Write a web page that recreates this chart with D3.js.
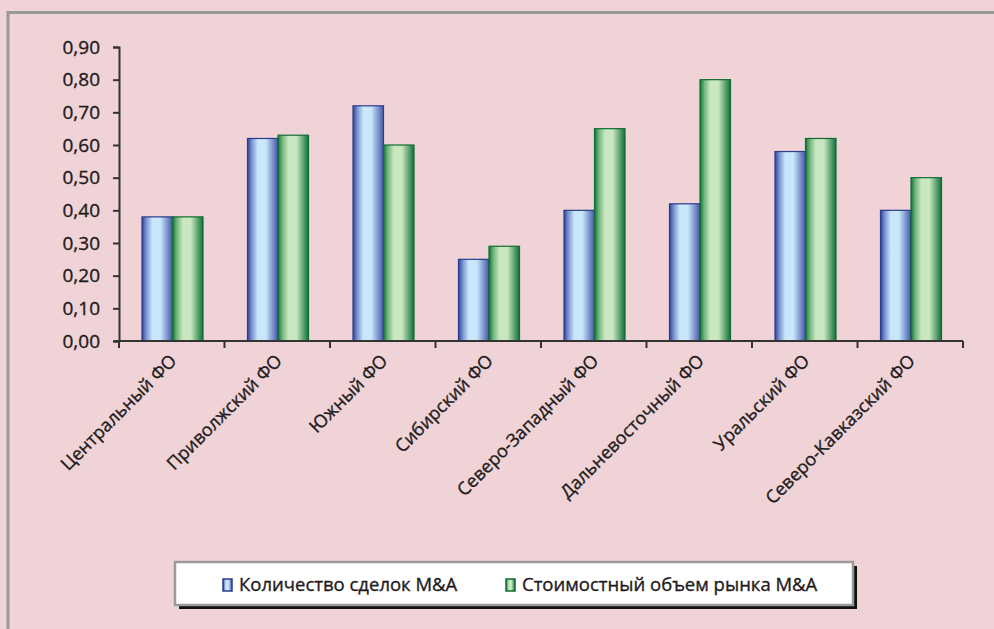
<!DOCTYPE html>
<html>
<head>
<meta charset="utf-8">
<script src="https://cdn.jsdelivr.net/npm/d3@7"></script>
<style>
    body { margin: 0; background: #efd3d6; }
    svg { display: block; }
    text { font-family: "Open Sans", sans-serif; fill: #1f1b1c; stroke: #1f1b1c; stroke-width: 0.35px; }
</style>
</head>
<body>
<svg width="994" height="629"></svg>
<script>
// Data
const districts = ["Центральный ФО", "Приволжский ФО", "Южный ФО", "Сибирский ФО",
    "Северо-Западный ФО", "Дальневосточный ФО", "Уральский ФО", "Северо-Кавказский ФО"];
const series = ["Количество сделок M&A", "Стоимостный объем рынка M&A"];
const deals = [0.38, 0.62, 0.72, 0.25, 0.40, 0.42, 0.58, 0.40];
const volume = [0.38, 0.63, 0.60, 0.29, 0.65, 0.80, 0.62, 0.50];
const yTicks = [0, 0.1, 0.2, 0.3, 0.4, 0.5, 0.6, 0.7, 0.8, 0.9];

const svg = d3.select("svg");

// Gradients for the cylinder-ish bars
const defs = svg.append("defs");
const grad = (id, dark, mid, light, edge) => {
    const g = defs.append("linearGradient").attr("id", id)
        .attr("x1", "0%").attr("x2", "100%").attr("y1", "0%").attr("y2", "0%");
    g.append("stop").attr("offset", "0%").attr("stop-color", dark);
    g.append("stop").attr("offset", "14%").attr("stop-color", mid);
    g.append("stop").attr("offset", "34%").attr("stop-color", light);
    g.append("stop").attr("offset", "60%").attr("stop-color", light);
    g.append("stop").attr("offset", "100%").attr("stop-color", edge);
};
grad("gBlue", "#2f4497", "#7d92d0", "#c8e7fb", "#4656a8");
grad("gGreen", "#12733a", "#6fb57a", "#c9e7c0", "#10703a");
const colors = [
    { fill: "url(#gBlue)", stroke: "#2b3c8c" },
    { fill: "url(#gGreen)", stroke: "#0f6c32" }
];

// Outer frame (open on the right and bottom)
svg.append("rect")
    .attr("x", 8).attr("y", 12.5)
    .attr("width", 1100).attr("height", 700)
    .attr("fill", "none")
    .attr("stroke", "#999")
    .attr("stroke-width", 3);

// Scales
const x0 = d3.scaleBand().domain(districts).range([119, 963]).padding(0);
const x1 = d3.scaleBand().domain(series).range([23, 84]);
const y = d3.scaleLinear().domain([0, 0.9]).range([341, 47]);

const fmt = (d) => d3.format(".2f")(d).replace(".", ",");

// Bars
const rows = districts.map((d, i) => ({ district: d, values: [deals[i], volume[i]] }));
const groups = svg.append("g").selectAll("g")
    .data(rows)
    .join("g")
    .attr("transform", (d) => `translate(${x0(d.district)},0)`);

groups.selectAll("rect")
    .data((d) => d.values.map((v, k) => ({ key: series[k], k: k, v: v })))
    .join("rect")
    .attr("x", (d) => x1(d.key))
    .attr("width", x1.bandwidth())
    .attr("y", (d) => y(d.v))
    .attr("height", (d) => y(0) - y(d.v))
    .attr("fill", (d) => colors[d.k].fill)
    .attr("stroke", (d) => colors[d.k].stroke)
    .attr("stroke-width", 1.2);

// Y axis
const yAxis = svg.append("g")
    .attr("transform", "translate(119,0)")
    .call(d3.axisLeft(y).tickValues(yTicks).tickFormat(fmt).tickSize(6).tickPadding(13));
yAxis.selectAll("text").style("font-size", "19px");
yAxis.select(".domain").attr("stroke", "#333").attr("stroke-width", 2);
yAxis.selectAll(".tick line").attr("stroke", "#333").attr("stroke-width", 2);

// X axis with ticks on the category boundaries
const xAxis = svg.append("g").attr("transform", "translate(0,341)");
xAxis.append("line")
    .attr("x1", 114).attr("x2", 963)
    .attr("stroke", "#333").attr("stroke-width", 2);
const bounds = districts.map((d) => x0(d)).concat([963]);
xAxis.selectAll(".tk")
    .data(bounds)
    .join("line")
    .attr("class", "tk")
    .attr("x1", (d) => d).attr("x2", (d) => d)
    .attr("y1", 0).attr("y2", 7)
    .attr("stroke", "#333").attr("stroke-width", 2);
xAxis.selectAll(".lbl")
    .data(districts)
    .join("text")
    .attr("class", "lbl")
    .attr("transform", (d) => `translate(${x0(d) + x0.bandwidth() / 2 + 6},${21}) rotate(-45)`)
    .attr("text-anchor", "end")
    .style("font-size", "18px")
    .text((d) => d);

// Legend
const legend = svg.append("g");
legend.append("rect")
    .attr("x", 179).attr("y", 566).attr("width", 678).attr("height", 43)
    .attr("fill", "#111");
legend.append("rect")
    .attr("x", 175).attr("y", 562).attr("width", 678).attr("height", 43)
    .attr("fill", "#fff")
    .attr("stroke", "#9a9a9a")
    .attr("stroke-width", 2.5);
const legendX = [223, 506];
series.forEach((s, k) => {
    legend.append("rect")
        .attr("x", legendX[k]).attr("y", 579)
        .attr("width", 9).attr("height", 12)
        .attr("fill", colors[k].fill)
        .attr("stroke", colors[k].stroke)
        .attr("stroke-width", 1.5);
    legend.append("text")
        .attr("x", legendX[k] + 16).attr("y", 591)
        .style("font-size", "18.5px")
        .text(s);
});
</script>
</body>
</html>
